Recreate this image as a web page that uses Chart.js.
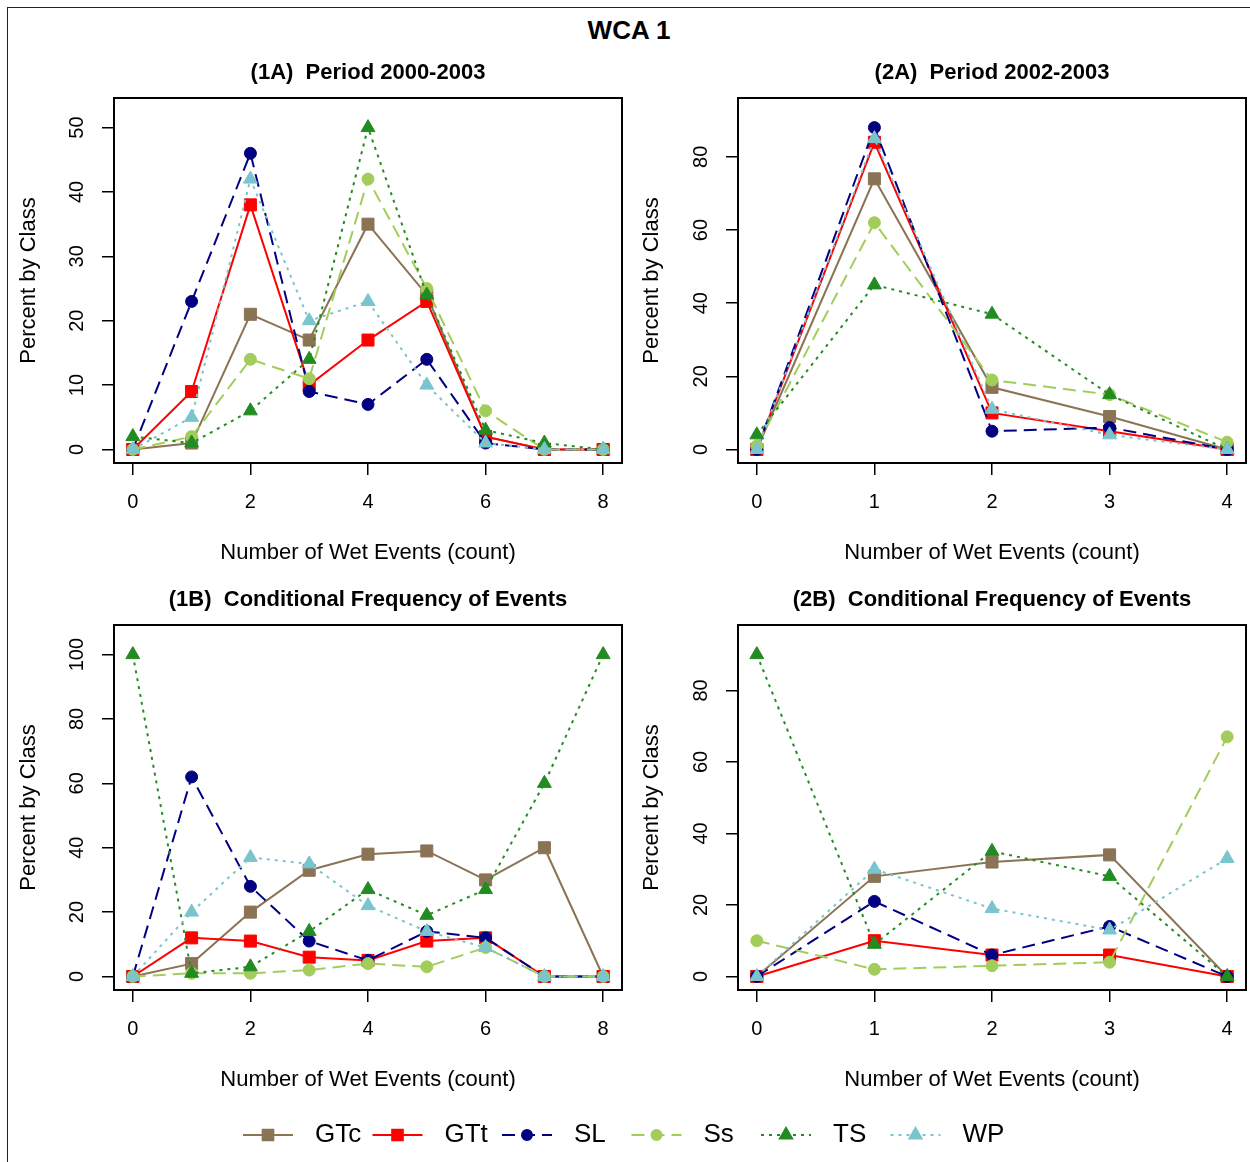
<!DOCTYPE html>
<html>
<head>
<meta charset="utf-8">
<title>WCA 1</title>
<script src="https://cdn.jsdelivr.net/npm/chart.js@4.4.1/dist/chart.umd.min.js"></script>
<style>
  html, body { margin: 0; padding: 0; background: #fff; }
  body { width: 1250px; height: 1162px; position: relative; overflow: hidden; font-family: "Liberation Sans", Arial, sans-serif; }
  #frame { position: absolute; left: 7px; top: 7px; width: 1300px; height: 1200px; border-left: 1.5px solid #222; border-top: 1.5px solid #222; }
  #mainTitle { position: absolute; left: 8px; right: 0; top: 14px; height: 32px; line-height: 32px; text-align: center; font-weight: bold; font-size: 26px; color: #000; }
  canvas { position: absolute; }
</style>
</head>
<body>
<div id="frame"></div>
<div id="mainTitle">WCA 1</div>
<canvas id="p1A" width="640" height="540" style="left:0px;top:40px"></canvas>
<canvas id="p2A" width="639" height="540" style="left:625px;top:40px"></canvas>
<canvas id="p1B" width="640" height="540" style="left:0px;top:567px"></canvas>
<canvas id="p2B" width="639" height="540" style="left:625px;top:567px"></canvas>
<canvas id="legendRow" width="1250" height="62" style="left:0px;top:1100px"></canvas>
<script>
/* ================= DATA ================= */
const seriesNames = ['GTc', 'GTt', 'SL', 'Ss', 'TS', 'WP'];

// wet event counts (x) and axis ticks
const countsLong = [0, 1, 2, 3, 4, 5, 6, 7, 8];
const countsShort = [0, 1, 2, 3, 4];
const xTicksLong = [0, 2, 4, 6, 8];
const xTicksShort = [0, 1, 2, 3, 4];

// (1A) Period 2000-2003
const gtc1A = [0, 1, 21, 17, 35, 24, 2, 0, 0];
const gtt1A = [0, 9, 38, 10, 17, 23, 2, 0, 0];
const sl1A  = [0, 23, 46, 9, 7, 14, 1, 0, 0];
const ss1A  = [0, 2, 14, 11, 42, 25, 6, 0, 0];
const ts1A  = [2, 1, 6, 14, 50, 24, 3, 1, 0];
const wp1A  = [0, 5, 42, 20, 23, 10, 1, 0, 0];
const yTicks1A = [0, 10, 20, 30, 40, 50];

// (2A) Period 2002-2003
const gtc2A = [0, 74, 17, 9, 0];
const gtt2A = [0, 84, 10, 5, 0];
const sl2A  = [0, 88, 5, 6, 0];
const ss2A  = [1, 62, 19, 15, 2];
const ts2A  = [4, 45, 37, 15, 0];
const wp2A  = [0, 85, 11, 4, 0];
const yTicks2A = [0, 20, 40, 60, 80];

// (1B) Conditional Frequency of Events, 2000-2003
const gtc1B = [0, 4, 20, 33, 38, 39, 30, 40, 0];
const gtt1B = [0, 12, 11, 6, 5, 11, 12, 0, 0];
const sl1B  = [0, 62, 28, 11, 5, 14, 12, 0, 0];
const ss1B  = [0, 1, 1, 2, 4, 3, 9, 0, 0];
const ts1B  = [100, 1, 3, 14, 27, 19, 27, 60, 100];
const wp1B  = [0, 20, 37, 35, 22, 14, 9, 0, 0];
const yTicks1B = [0, 20, 40, 60, 80, 100];

// (2B) Conditional Frequency of Events, 2002-2003
const gtc2B = [0, 28, 32, 34, 0];
const gtt2B = [0, 10, 6, 6, 0];
const sl2B  = [0, 21, 6, 14, 0];
const ss2B  = [10, 2, 3, 4, 67];
const ts2B  = [90, 9, 35, 28, 0];
const wp2B  = [0, 30, 19, 13, 33];
const yTicks2B = [0, 20, 40, 60, 80];

/* ================= STYLE ================= */
const FONT = '"Liberation Sans", Arial, sans-serif';
const seriesColors  = ['#8B7355', '#FF0000', '#000080', '#A2CD5A', '#228B22', '#7AC5CD'];
const seriesMarkers = ['rect', 'rect', 'circle', 'circle', 'triangle', 'triangle'];
const markerRadius  = [8.5, 8.5, 6, 6, 8, 8];
const seriesDashes  = [[], [], [13, 7], [13, 7], [3, 5], [3, 5]];

/* ================= PLUGINS ================= */
// black box round the plot area, like R's box()
const boxPlugin = {
    id: 'plotBox',
    afterDraw(chart) {
        const a = chart.chartArea, ctx = chart.ctx;
        ctx.save();
        ctx.strokeStyle = '#000';
        ctx.lineWidth = 2;
        ctx.strokeRect(a.left, a.top, a.right - a.left, a.bottom - a.top);
        ctx.restore();
    }
};

// panel title centred over the plot area
const panelTitlePlugin = {
    id: 'panelTitle',
    afterDraw(chart, args, opts) {
        const a = chart.chartArea, ctx = chart.ctx;
        ctx.save();
        ctx.font = 'bold 22px ' + FONT;
        ctx.fillStyle = '#000';
        ctx.textAlign = 'center';
        ctx.textBaseline = 'middle';
        ctx.fillText(opts.text, (a.left + a.right) / 2, a.top - 25);
        ctx.restore();
    }
};

// y tick labels turned sideways (R style)
const yLabelPlugin = {
    id: 'sideYLabels',
    afterDraw(chart) {
        const s = chart.scales.y, ctx = chart.ctx;
        ctx.save();
        ctx.font = '20px ' + FONT;
        ctx.fillStyle = '#000';
        ctx.textAlign = 'center';
        ctx.textBaseline = 'middle';
        s.ticks.forEach(t => {
            ctx.save();
            ctx.translate(chart.chartArea.left - 37, s.getPixelForValue(t.value));
            ctx.rotate(-Math.PI / 2);
            ctx.fillText(String(t.value), 0, 0);
            ctx.restore();
        });
        ctx.restore();
    }
};

// one-row legend with equal columns
const legendPlugin = {
    id: 'rowLegend',
    afterDraw(chart) {
        const ctx = chart.ctx, y = 35;
        ctx.save();
        ctx.font = '26px ' + FONT;
        ctx.textBaseline = 'middle';
        chart.data.datasets.forEach((ds, i) => {
            const x0 = 243 + i * 129.5;
            ctx.strokeStyle = ds.borderColor;
            ctx.lineWidth = 2;
            ctx.setLineDash(ds.borderDash);
            ctx.beginPath();
            ctx.moveTo(x0, y);
            ctx.lineTo(x0 + 50, y);
            ctx.stroke();
            ctx.setLineDash([]);
            ctx.fillStyle = ds.pointBackgroundColor;
            ctx.strokeStyle = ds.pointBorderColor;
            Chart.helpers.drawPoint(ctx, { pointStyle: ds.pointStyle, radius: ds.pointRadius - 1, borderWidth: 1, rotation: 0 }, x0 + 25, y);
            ctx.fillStyle = '#000';
            ctx.fillText(ds.label, x0 + 72, y);
        });
        ctx.restore();
    }
};

/* ================= CHARTS ================= */
function buildDatasets(xs, values) {
    return seriesNames.map((name, i) => ({
        label: name,
        data: xs.map((x, j) => ({ x: x, y: values[i][j] })),
        borderColor: seriesColors[i],
        backgroundColor: seriesColors[i],
        pointBackgroundColor: seriesColors[i],
        pointBorderColor: seriesColors[i],
        pointBorderWidth: 1,
        pointStyle: seriesMarkers[i],
        pointRadius: markerRadius[i],
        borderWidth: 2,
        borderDash: seriesDashes[i],
        tension: 0,
        fill: false,
        order: seriesNames.length - i
    }));
}

function tickGrid() {
    return { drawOnChartArea: false, drawTicks: true, tickLength: 12, color: '#000', lineWidth: 1.5 };
}

function makePanel(id, title, xs, xTicks, yTicks, values, yAxisWidth, yTitlePad) {
    const xSpan = xs[xs.length - 1] - xs[0];
    const yTop = Math.max(...values.flat()) * 1.05;
    const canvas = document.getElementById(id);

    return new Chart(canvas, {
        type: 'line',
        data: { datasets: buildDatasets(xs, values) },
        options: {
            responsive: false,
            animation: false,
            events: [],
            layout: { padding: { top: 58, right: canvas.width - yAxisWidth - 508, bottom: 0, left: 0 } },
            plugins: {
                legend: { display: false },
                tooltip: { enabled: false },
                panelTitle: { text: title }
            },
            scales: {
                x: {
                    type: 'linear',
                    min: xs[0] - 0.04 * xSpan,
                    max: xs[xs.length - 1] + 0.04 * xSpan,
                    afterBuildTicks: s => { s.ticks = xTicks.map(v => ({ value: v })); },
                    afterFit: s => { s.height = 117; },
                    grid: tickGrid(),
                    border: { display: false },
                    // tall line height puts the labels below the tick marks without extra side padding
                    ticks: { font: { size: 20, family: FONT, lineHeight: 2.7 }, color: '#000', padding: 0, maxRotation: 0, autoSkip: false },
                    title: { display: true, text: 'Number of Wet Events (count)', color: '#000',
                             font: { size: 22, family: FONT }, padding: { top: 0, bottom: 14 } }
                },
                y: {
                    type: 'linear',
                    min: -0.04 * yTop,
                    max: 1.04 * yTop,
                    afterBuildTicks: s => { s.ticks = yTicks.map(v => ({ value: v })); },
                    afterFit: s => { s.width = yAxisWidth; },
                    grid: tickGrid(),
                    border: { display: false },
                    ticks: { display: false },
                    title: { display: true, text: 'Percent by Class', color: '#000',
                             font: { size: 22, family: FONT }, padding: { top: yTitlePad, bottom: 0 } }
                }
            }
        },
        plugins: [boxPlugin, panelTitlePlugin, yLabelPlugin]
    });
}

makePanel('p1A', '(1A)  Period 2000-2003', countsLong, xTicksLong, yTicks1A,
          [gtc1A, gtt1A, sl1A, ss1A, ts1A, wp1A], 114, 16);
makePanel('p2A', '(2A)  Period 2002-2003', countsShort, xTicksShort, yTicks2A,
          [gtc2A, gtt2A, sl2A, ss2A, ts2A, wp2A], 113, 14);
makePanel('p1B', '(1B)  Conditional Frequency of Events', countsLong, xTicksLong, yTicks1B,
          [gtc1B, gtt1B, sl1B, ss1B, ts1B, wp1B], 114, 16);
makePanel('p2B', '(2B)  Conditional Frequency of Events', countsShort, xTicksShort, yTicks2B,
          [gtc2B, gtt2B, sl2B, ss2B, ts2B, wp2B], 113, 14);

// legend strip: same series styles, no data drawn
new Chart(document.getElementById('legendRow'), {
    type: 'line',
    data: { datasets: buildDatasets([], seriesNames.map(() => [])) },
    options: {
        responsive: false,
        animation: false,
        events: [],
        plugins: { legend: { display: false }, tooltip: { enabled: false } },
        scales: { x: { display: false }, y: { display: false } }
    },
    plugins: [legendPlugin]
});
</script>
</body>
</html>
